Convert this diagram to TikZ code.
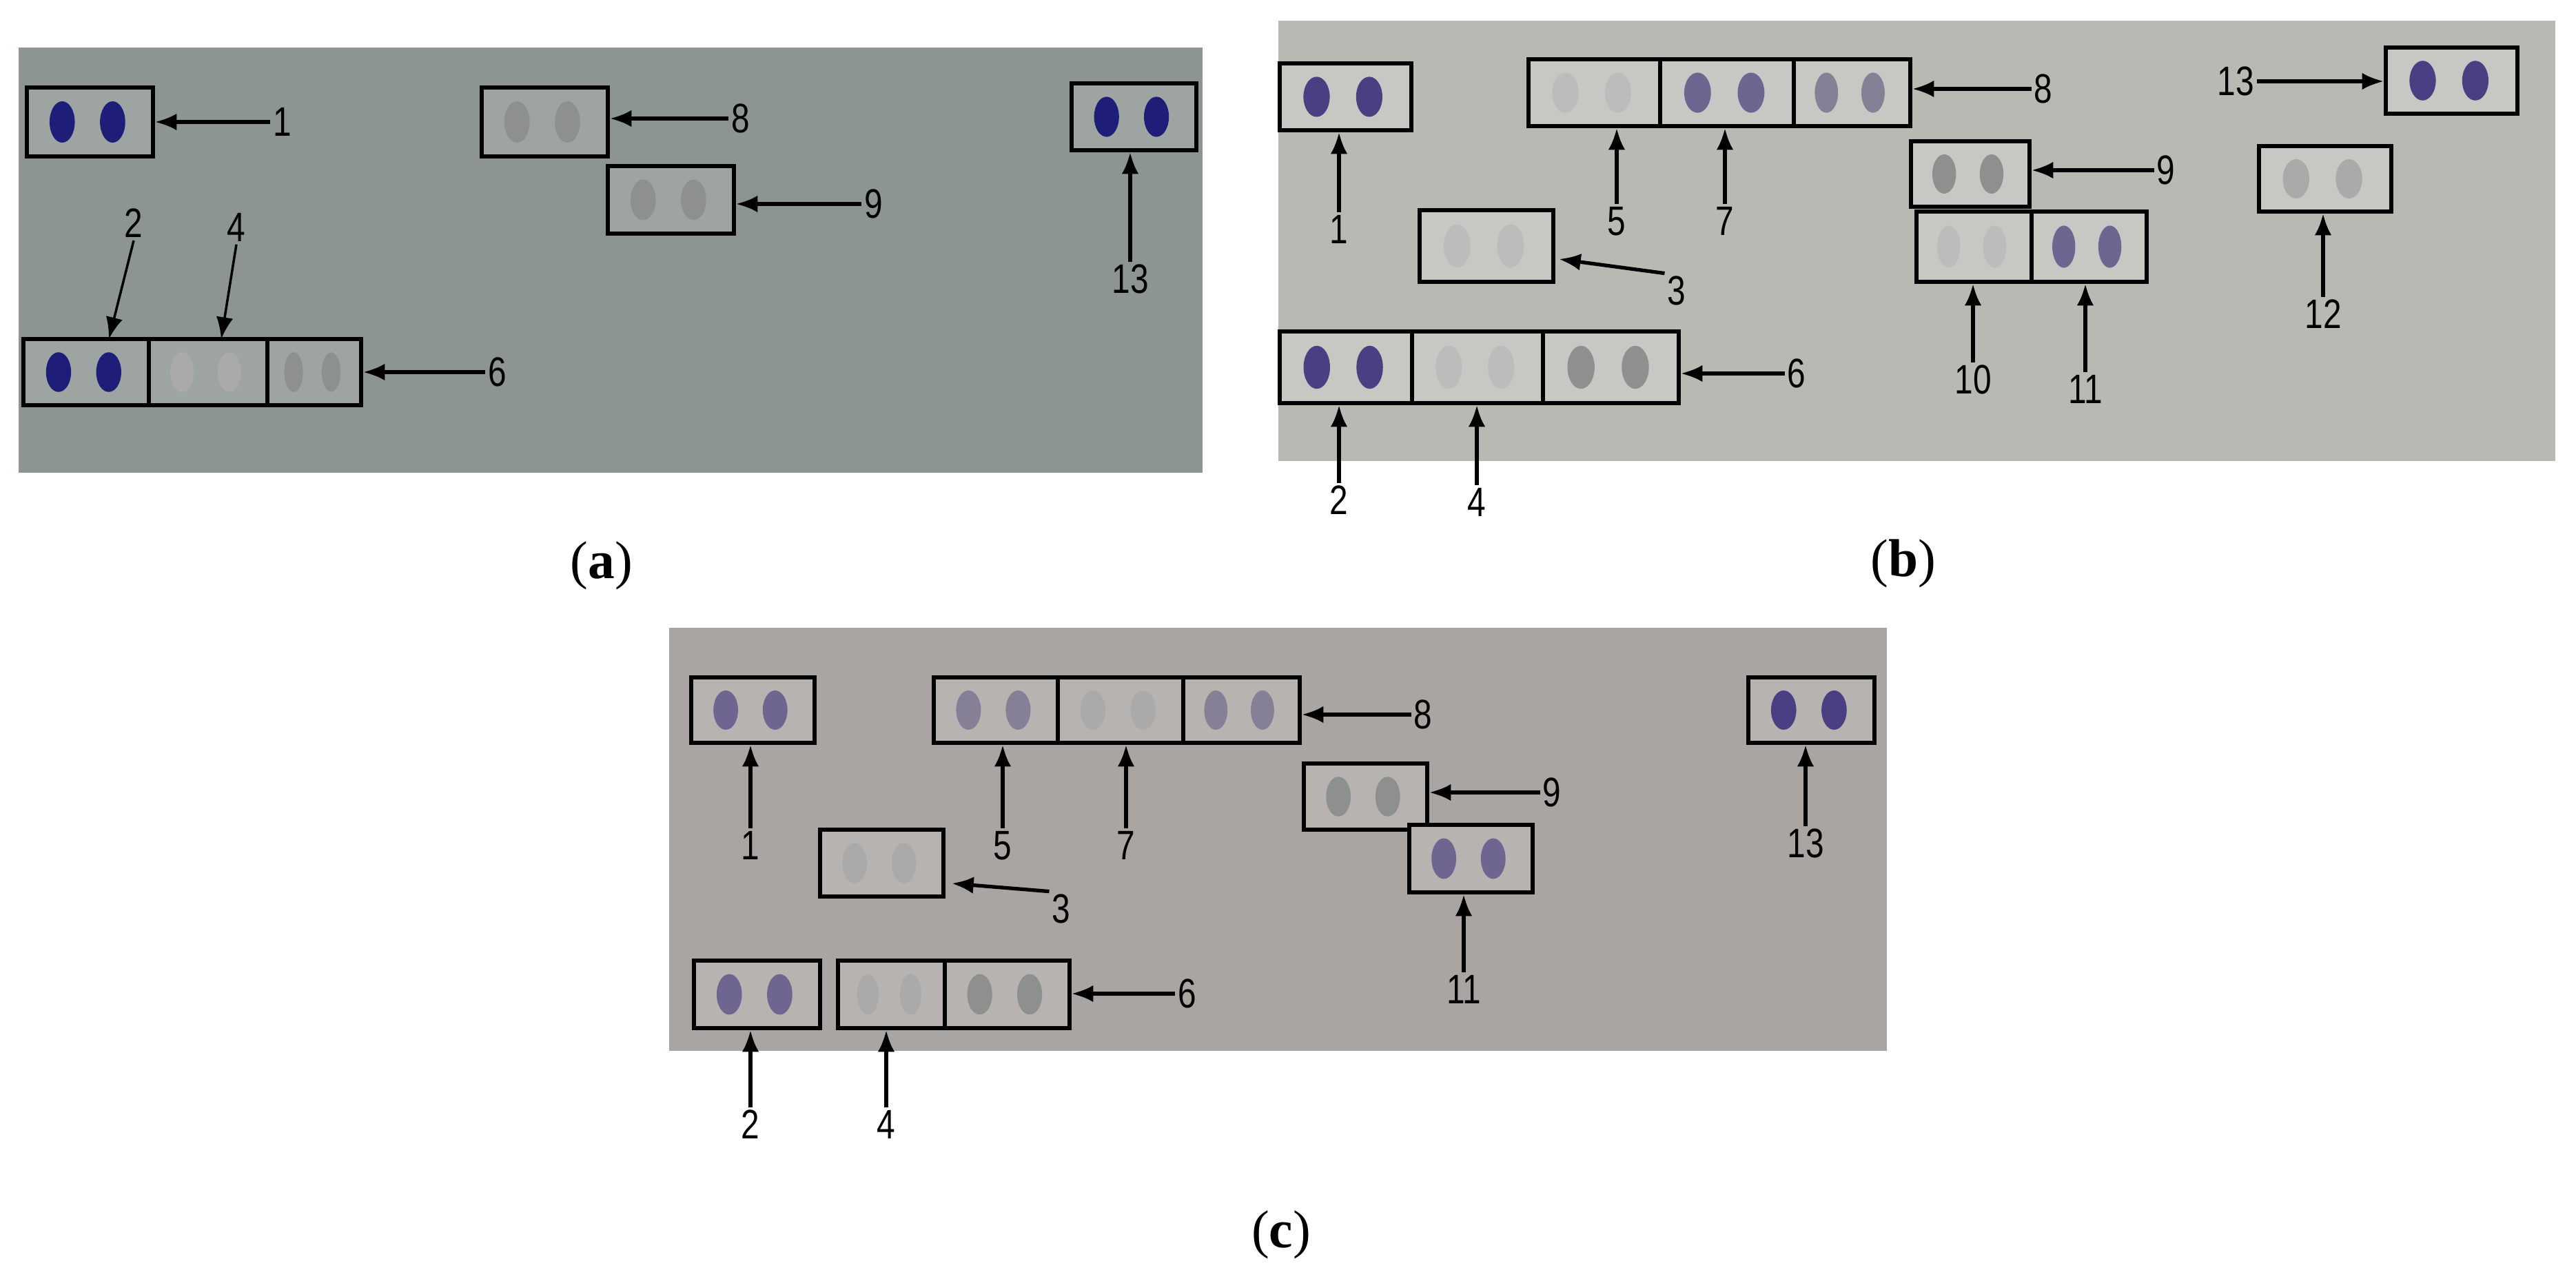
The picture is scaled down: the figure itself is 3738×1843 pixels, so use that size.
\documentclass[tikz,border=0pt]{standalone}
\usepackage{fontspec}
\setmainfont{Liberation Serif}
\newfontfamily\labfont[FakeStretch=0.8]{Liberation Sans}
\usetikzlibrary{arrows.meta,calc}
\definecolor{bga}{HTML}{8D9591}\definecolor{boxa}{HTML}{9DA4A1}
\definecolor{bgb}{HTML}{B9B8B3}\definecolor{boxb}{HTML}{C8C7C3}
\definecolor{bgc}{HTML}{A9A5A3}\definecolor{boxc}{HTML}{B7B3B1}
\definecolor{navy}{HTML}{1E1E78}
\definecolor{dpurp}{HTML}{4A3F82}
\definecolor{mpurp}{HTML}{6E6590}
\definecolor{gpurp}{HTML}{858095}
\definecolor{greyd}{HTML}{8E908F}
\definecolor{faint}{HTML}{A9AAA9}
\definecolor{faintb}{HTML}{BDBBBB}
\tikzset{
  blotbox/.style={draw=black,line width=1.6pt,inner sep=0pt},
  lab/.style={font=\labfont\fontsize{17}{17}\selectfont,inner sep=1pt},
  arr/.style={-{Latex[length=9pt,width=7pt]},line width=1.5pt},
  thinarr/.style={-{Latex[length=9pt,width=7pt]},line width=1pt},
  captext/.style={font=\fontsize{22}{22}\selectfont}
}
% name, x1, y1, x2, y2, fill, dotcolour
\newcommand\blot[7]{%
  \pgfmathsetmacro\bw{(#4-#2)*0.01}\pgfmathsetmacro\bh{(#5-#3)*0.01}%
  \node[blotbox,fill=#6,minimum width=\bw cm,minimum height=\bh cm] (#1) at ({(#2+#4)/2},{(#3+#5)/2}) {};
  \fill[#7] ({#2+0.28*(#4-#2)},{(#3+#5)/2}) ellipse [x radius={0.1*(#4-#2)},y radius={0.3*(#5-#3)}];
  \fill[#7] ({#2+0.68*(#4-#2)},{(#3+#5)/2}) ellipse [x radius={0.1*(#4-#2)},y radius={0.3*(#5-#3)}];
}
\begin{document}
\begin{tikzpicture}[x=0.01cm,y=-0.01cm]
\useasboundingbox (0,0) rectangle (3738,1843);
\fill[white] (0,0) rectangle (3738,1843);
% ---------- panel a
\fill[bga] (27,69) rectangle (1745,686);
\blot{a1}{39}{127}{222}{227}{boxa}{navy}
\blot{a8}{699}{127}{882}{227}{boxa}{greyd}
\blot{a9}{882}{241}{1065}{339}{boxa}{greyd}
\blot{a13}{1555}{121}{1736}{218}{boxa}{navy}
\blot{a2}{34}{492}{216}{588}{boxa}{navy}
\blot{a4}{216}{492}{388}{588}{boxa}{faint}
\blot{a6}{388}{492}{524}{588}{boxa}{greyd}
\node[lab] (la1) at (410,177) {1};
\node[lab] (la8) at (1075,172) {8};
\node[lab] (la9) at (1268,296) {9};
\node[lab] (la13) at (1640,405) {13};
\node[lab] (la2) at (194,324) {2};
\node[lab] (la4) at (343,330) {4};
\node[lab] (la6) at (722,540) {6};
\coordinate (ca2) at (158,492); \coordinate (ca4) at (321,492);
\draw[arr] (la1.west) -- (la1.west -| a1.east);
\draw[arr] (la8.west) -- (la8.west -| a8.east);
\draw[arr] (la9.west) -- (la9.west -| a9.east);
\draw[arr] (la13.north) -- (la13.north |- a13.south);
\draw[thinarr] (la2.south) -- (ca2);
\draw[thinarr] (la4.south) -- (ca4);
\draw[arr] (la6.west) -- (la6.west -| a6.east);
\node[captext] (capa) at (873,821) {(\textbf{a})};
% ---------- panel b
\fill[bgb] (1855,30) rectangle (3708,669);
\blot{b1}{1857}{92}{2048}{189}{boxb}{dpurp}
\blot{b5}{2218}{86}{2409}{183}{boxb}{faintb}
\blot{b7}{2409}{86}{2603}{183}{boxb}{mpurp}
\blot{b8}{2603}{86}{2772}{183}{boxb}{gpurp}
\blot{b13}{3462}{69}{3653}{165}{boxb}{dpurp}
\blot{b3}{2060}{305}{2254}{409}{boxb}{faintb}
\blot{b9}{2773}{205}{2945}{300}{boxb}{greyd}
\blot{b10}{2781}{307}{2948}{409}{boxb}{faintb}
\blot{b11}{2948}{307}{3115}{409}{boxb}{mpurp}
\blot{b12}{3278}{212}{3470}{307}{boxb}{faint}
\blot{b2}{1857}{481}{2049}{585}{boxb}{dpurp}
\blot{b4}{2049}{481}{2239}{585}{boxb}{faintb}
\blot{b6}{2239}{481}{2436}{585}{boxb}{greyd}
\node[lab] (lb1) at (1943,333) {1};
\node[lab] (lb5) at (2346,321) {5};
\node[lab] (lb7) at (2503,321) {7};
\node[lab] (lb8) at (2965,129) {8};
\node[lab] (lb13) at (3244,118) {13};
\node[lab] (lb3) at (2433,422) {3};
\node[lab] (lb9) at (3143,247) {9};
\node[lab] (lb10) at (2863,551) {10};
\node[lab] (lb11) at (3026,565) {11};
\node[lab] (lb12) at (3371,456) {12};
\node[lab] (lb6) at (2607,542) {6};
\node[lab] (lb2) at (1943,726) {2};
\node[lab] (lb4) at (2143,729) {4};
\coordinate (cb3) at (2262,376);
\draw[arr] (lb1.north) -- (lb1.north |- b1.south);
\draw[arr] (lb5.north) -- (lb5.north |- b5.south);
\draw[arr] (lb7.north) -- (lb7.north |- b7.south);
\draw[arr] (lb8.west) -- (lb8.west -| b8.east);
\draw[arr] (lb13.east) -- (lb13.east -| b13.west);
\draw[arr] (lb3.north west) -- (cb3);
\draw[arr] (lb9.west) -- (lb9.west -| b9.east);
\draw[arr] (lb10.north) -- (lb10.north |- b10.south);
\draw[arr] (lb11.north) -- (lb11.north |- b11.south);
\draw[arr] (lb12.north) -- (lb12.north |- b12.south);
\draw[arr] (lb6.west) -- (lb6.west -| b6.east);
\draw[arr] (lb2.north) -- (lb2.north |- b2.south);
\draw[arr] (lb4.north) -- (lb4.north |- b4.south);
\node[captext] (capb) at (2762,818) {(\textbf{b})};
% ---------- panel c
\fill[bgc] (971,911) rectangle (2738,1525);
\blot{c1}{1003}{983}{1182}{1078}{boxc}{mpurp}
\blot{c5}{1355}{983}{1535}{1078}{boxc}{gpurp}
\blot{c7}{1535}{983}{1717}{1078}{boxc}{faint}
\blot{c8}{1717}{983}{1886}{1078}{boxc}{gpurp}
\blot{c13}{2537}{983}{2720}{1078}{boxc}{dpurp}
\blot{c3}{1190}{1204}{1369}{1301}{boxc}{faint}
\blot{c9}{1892}{1108}{2071}{1204}{boxc}{greyd}
\blot{c11}{2045}{1197}{2224}{1295}{boxc}{mpurp}
\blot{c2}{1007}{1394}{1190}{1492}{boxc}{mpurp}
\blot{c4}{1216}{1394}{1371}{1492}{boxc}{faint}
\blot{c6}{1371}{1394}{1552}{1492}{boxc}{greyd}
\node[lab] (lc1) at (1089,1227) {1};
\node[lab] (lc5) at (1455,1227) {5};
\node[lab] (lc7) at (1634,1227) {7};
\node[lab] (lc8) at (2065,1037) {8};
\node[lab] (lc13) at (2620,1224) {13};
\node[lab] (lc3) at (1540,1319) {3};
\node[lab] (lc9) at (2252,1150) {9};
\node[lab] (lc11) at (2124,1436) {11};
\node[lab] (lc6) at (1723,1442) {6};
\node[lab] (lc2) at (1089,1632) {2};
\node[lab] (lc4) at (1286,1632) {4};
\coordinate (cc3) at (1381,1282);
\draw[arr] (lc1.north) -- (lc1.north |- c1.south);
\draw[arr] (lc5.north) -- (lc5.north |- c5.south);
\draw[arr] (lc7.north) -- (lc7.north |- c7.south);
\draw[arr] (lc8.west) -- (lc8.west -| c8.east);
\draw[arr] (lc13.north) -- (lc13.north |- c13.south);
\draw[arr] (lc3.north west) -- (cc3);
\draw[arr] (lc9.west) -- (lc9.west -| c9.east);
\draw[arr] (lc11.north) -- (lc11.north |- c11.south);
\draw[arr] (lc6.west) -- (lc6.west -| c6.east);
\draw[arr] (lc2.north) -- (lc2.north |- c2.south);
\draw[arr] (lc4.north) -- (lc4.north |- c4.south);
\node[captext] (capc) at (1859,1792) {(\textbf{c})};
\end{tikzpicture}
\end{document}
